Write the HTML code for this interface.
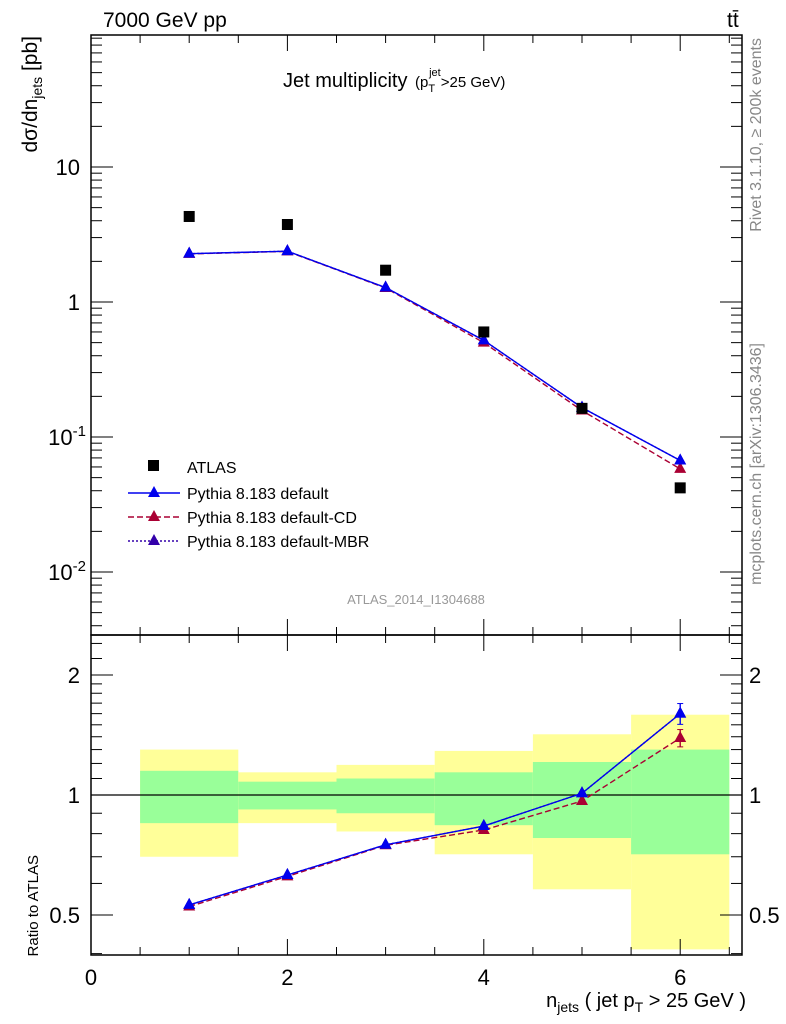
<!DOCTYPE html>
<html><head><meta charset="utf-8">
<style>
body{margin:0;background:#fff;}
svg{display:block;font-family:"Liberation Sans",sans-serif;}
</style></head>
<body>
<svg id="c" width="786" height="1024" xmlns="http://www.w3.org/2000/svg"></svg>
<script>
const njets=[1,2,3,4,5,6];
const atlasVals=[4.3,3.75,1.72,0.6,0.163,0.042];
const pyDefault=[2.28,2.38,1.28,0.52,0.165,0.067];
const pyCD=[2.27,2.37,1.27,0.5,0.157,0.058];
const pyMBR=[2.28,2.38,1.28,0.52,0.165,0.067];
const ratioDefault=[0.53,0.63,0.75,0.836,1.01,1.6];
const ratioCD=[0.525,0.625,0.748,0.817,0.966,1.39];
const ratioMBR=[0.53,0.63,0.75,0.836,1.01,1.6];
const yellowUp=[1.30,1.14,1.19,1.29,1.42,1.59];
const yellowLo=[0.70,0.85,0.81,0.71,0.58,0.41];
const greenUp=[1.15,1.08,1.10,1.14,1.21,1.30];
const greenLo=[0.85,0.92,0.90,0.84,0.78,0.71];
const xTicks=[0,2,4,6];
const yMainTicks=[10,1,0.1,0.01];
const yRatioTicks=[0.5,1,2];

const NS="http://www.w3.org/2000/svg";
const svg=document.getElementById('c');
const L=91,R=742,T=35,M=635,B=955;
const X=v=>L+v*98.2;
const Ym=v=>302-135*Math.log10(v);
const Yr=v=>795-120*Math.log2(v);
function el(tag,attrs,parent){const e=document.createElementNS(NS,tag);for(const k in attrs)e.setAttribute(k,attrs[k]);(parent||svg).appendChild(e);return e;}
function txt(x,y,s,size,anchor,parent,fill){const t=el('text',{x:x,y:y,'font-size':size,'text-anchor':anchor||'start',fill:fill||'#000'},parent);t.textContent=s;return t;}

const bands=el('g',{});


njets.forEach((n,i)=>{
  const r=el('rect',{x:X(n-0.5),y:Yr(yellowUp[i]),width:X(n+0.5)-X(n-0.5),height:Yr(yellowLo[i])-Yr(yellowUp[i]),fill:'#ffff99'},bands);
  
  
  const g=el('rect',{x:X(n-0.5),y:Yr(greenUp[i]),width:X(n+0.5)-X(n-0.5),height:Yr(greenLo[i])-Yr(greenUp[i]),fill:'#99ff99'},bands);
  
  
});
el('line',{x1:L,x2:R,y1:Yr(1),y2:Yr(1),stroke:'#000','stroke-width':1.2});

el('rect',{x:L,y:T,width:R-L,height:M-T,fill:'none',stroke:'#000','stroke-width':1.5});
el('rect',{x:L,y:M,width:R-L,height:B-M,fill:'none',stroke:'#000','stroke-width':1.5});

for(let v=0;v<=6.5;v+=0.5){
  const major=Number.isInteger(v/2);
  const len=major?16:8;
  el('line',{x1:X(v),x2:X(v),y1:T,y2:T+len,stroke:'#000'});
  el('line',{x1:X(v),x2:X(v),y1:M,y2:M-len,stroke:'#000'});
  el('line',{x1:X(v),x2:X(v),y1:M,y2:M+len,stroke:'#000'});
  el('line',{x1:X(v),x2:X(v),y1:B,y2:B-len,stroke:'#000'});
}
xTicks.forEach(v=>{const t=txt(X(v),985,String(v),22,'middle');});

for(let e=-3;e<=1;e++){
  for(let m=1;m<=9;m++){
    const v=m*Math.pow(10,e);const y=Ym(v);
    if(y<T||y>M)continue;
    const len=m===1?22:11;
    el('line',{x1:L,x2:L+len,y1:y,y2:y,stroke:'#000'});
    el('line',{x1:R,x2:R-len,y1:y,y2:y,stroke:'#000'});
  }
}
yMainTicks.forEach((v,i)=>{
  const t=el('text',{x:80,y:Ym(v)+8,'font-size':22,'text-anchor':'end'});
  
  
  if(v>=1)t.textContent=String(v);
  else{const ex=v===0.1?'-1':'-2';t.innerHTML='10<tspan dy="-9" font-size="15">'+ex+'</tspan>';t.setAttribute('x',86);}
});
[0.4,0.5,0.6,0.7,0.8,0.9,1,2].forEach(v=>{
  const y=Yr(v);const len=(v===0.5||v===1||v===2)?22:11;
  el('line',{x1:L,x2:L+len,y1:y,y2:y,stroke:'#000'});
  el('line',{x1:R,x2:R-len,y1:y,y2:y,stroke:'#000'});
});
[1.1,1.2,1.3,1.4,1.5,1.6,1.7,1.8,1.9,2.2,2.4].forEach(v=>{
  const y=Yr(v);
  el('line',{x1:L,x2:L+11,y1:y,y2:y,stroke:'#000'});
  el('line',{x1:R,x2:R-11,y1:y,y2:y,stroke:'#000'});
});
yRatioTicks.forEach(v=>{
  const s=v===0.5?'0.5':String(v);
  const a=txt(80,Yr(v)+8,s,22,'end');
  const b=txt(749,Yr(v)+8,s,22,'start');
});

function tri(x,y,c,parent){return el('polygon',{points:`${x},${y-7} ${x-6},${y+4} ${x+6},${y+4}`,fill:c},parent);}
function series(vals,fy,color,dash,name){
  const g=el('g',{});
  
  
  el('polyline',{points:njets.map((n,i)=>X(n)+','+fy(vals[i])).join(' '),fill:'none',stroke:color,'stroke-width':1.4,'stroke-dasharray':dash||''},g);
  njets.forEach((n,i)=>tri(X(n),fy(vals[i]),color,g));
}
series(pyMBR,Ym,'#3300aa','2,2','pythia-mbr-main');
series(pyCD,Ym,'#aa0033','6,3','pythia-cd-main');
series(pyDefault,Ym,'#0000ee','','pythia-default-main');
const ag=el('g',{});


njets.forEach((n,i)=>el('rect',{x:X(n)-5.5,y:Ym(atlasVals[i])-5.5,width:11,height:11,fill:'#000'},ag));

series(ratioMBR,Yr,'#3300aa','2,2','pythia-mbr-ratio');
series(ratioCD,Yr,'#aa0033','6,3','pythia-cd-ratio');
series(ratioDefault,Yr,'#0000ee','','pythia-default-ratio');
[[ratioDefault,'#0000ee',0.06],[ratioCD,'#aa0033',0.05]].forEach(([a,c,e])=>{
  const v=a[5];
  el('line',{x1:X(6),x2:X(6),y1:Yr(v*(1+e)),y2:Yr(v*(1-e)),stroke:c,'stroke-width':1.4});
  el('line',{x1:X(6)-3,x2:X(6)+3,y1:Yr(v*(1+e)),y2:Yr(v*(1+e)),stroke:c});
  el('line',{x1:X(6)-3,x2:X(6)+3,y1:Yr(v*(1-e)),y2:Yr(v*(1-e)),stroke:c});
});

const lg=el('g',{});


el('rect',{x:148,y:460,width:11,height:11,fill:'#000'},lg);
txt(187,473,'ATLAS',16,'start',lg);
const legs=[['Pythia 8.183 default','#0000ee',''],['Pythia 8.183 default-CD','#aa0033','6,3'],['Pythia 8.183 default-MBR','#3300aa','2,2']];
legs.forEach((l,i)=>{const y=493+24*i;el('line',{x1:128,x2:180,y1:y,y2:y,stroke:l[1],'stroke-width':1.4,'stroke-dasharray':l[2]},lg);tri(154,y,l[1],lg);txt(187,y+6,l[0],16,'start',lg);});

let t;
t=txt(103,27,'7000 GeV pp',21);
t=txt(727,27,'tt̄',21);
t=el('text',{x:283,y:87,'font-size':20});t.innerHTML='Jet multiplicity <tspan font-size="15" dx="2">(p</tspan><tspan font-size="11" dy="5">T</tspan><tspan font-size="11" dy="-16" dx="-6">jet</tspan><tspan font-size="15" dy="11">&gt;25 GeV)</tspan>';

t=txt(416,604,'ATLAS_2014_I1304688',13,'middle',null,'#999');
t=el('text',{x:0,y:0,'font-size':21,'text-anchor':'end',transform:'translate(37,36) rotate(-90)'});t.innerHTML='dσ/dn<tspan font-size="14" dy="5">jets</tspan><tspan dy="-5"> [pb]</tspan>';

t=txt(0,0,'Ratio to ATLAS',15,'end');t.setAttribute('transform','translate(38,855) rotate(-90)');
t=el('text',{x:746,y:1007,'font-size':20,'text-anchor':'end'});t.innerHTML='n<tspan font-size="14" dy="5">jets</tspan><tspan dy="-5"> ( jet p</tspan><tspan font-size="14" dy="5">T</tspan><tspan dy="-5"> &gt; 25 GeV )</tspan>';

t=txt(0,0,'Rivet 3.1.10, ≥ 200k events',16,'end',null,'#888');t.setAttribute('transform','translate(761,38) rotate(-90)');
t=txt(0,0,'mcplots.cern.ch [arXiv:1306.3436]',16,'end',null,'#888');t.setAttribute('transform','translate(761,343) rotate(-90)');
</script>
</body></html>
